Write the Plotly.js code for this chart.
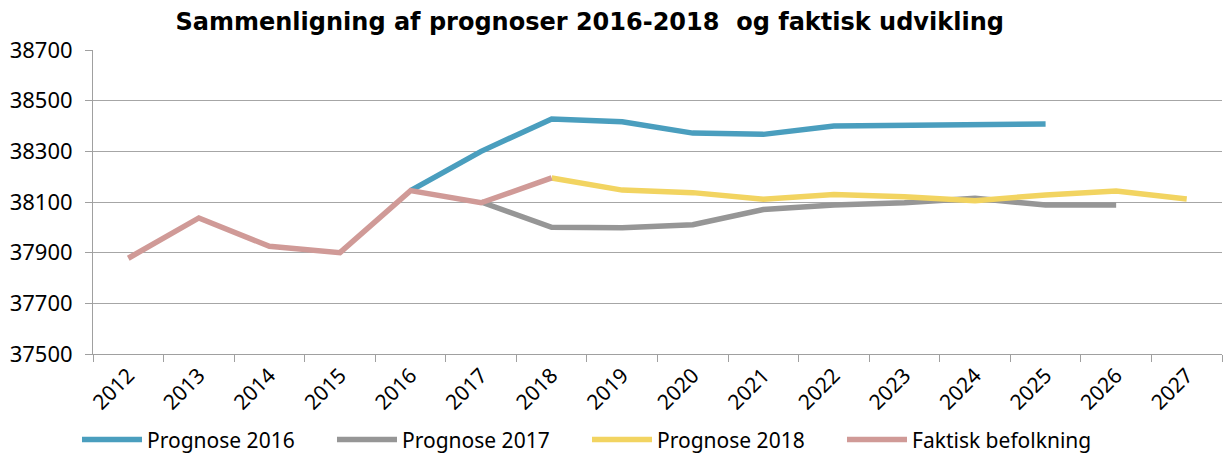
<!DOCTYPE html>
<html>
<head>
<meta charset="utf-8">
<script src="https://cdn.plot.ly/plotly-3.0.1.min.js"></script>
<style>html,body{margin:0;padding:0;background:#fff}#chart{width:1226px;height:453px}</style>
</head>
<body>
<div id="chart"></div>
<script>
const years = ["2012","2013","2014","2015","2016","2017","2018","2019","2020","2021","2022","2023","2024","2025","2026","2027"];
const prognose2016 = [null,null,null,null,38145,38300,38428,38417,38372,38367,38400,38401,38405,38408,null,null];
const prognose2017 = [null,null,null,null,null,38100,38000,37998,38010,38070,38088,38097,38115,38088,38088,null];
const prognose2018 = [null,null,null,null,null,null,38195,38147,38137,38111,38130,38121,38105,38128,38143,38112];
const faktisk = [37878,38037,37925,37900,38145,38097,38195,null,null,null,null,null,null,null,null,null];
const seriesNames = ["Prognose 2016","Prognose 2017","Prognose 2018","Faktisk befolkning"];
const yTicks = [37500,37700,37900,38100,38300,38500,38700];

const colors = ["#4A9EBE","#969696","#F2D461","#D09A97"];
const data = [prognose2016, prognose2017, prognose2018, faktisk].map((vals, i) => ({
  type: "scatter", mode: "lines", x: years, y: vals, name: seriesNames[i],
  line: {color: colors[i], width: 5.5}, connectgaps: false, hoverinfo: "x+y"
}));

const font = "Noto Sans, DejaVu Sans, sans-serif";
const layout = {
  width: 1226, height: 453,
  margin: {l: 93, r: 4, t: 50, b: 99},
  paper_bgcolor: "#fff", plot_bgcolor: "#fff",
  font: {family: font, color: "#000", size: 20},
  title: {text: "<b>Sammenligning af prognoser 2016-2018  og faktisk udvikling</b>", font: {family: "DejaVu Sans, sans-serif", size: 24, color: "#000"},
          x: 0.481, xanchor: "center", xref: "container", y: 0.97, yanchor: "top", yref: "container", automargin: false},
  xaxis: {type: "category", range: [-0.5, 15.5], tickangle: -45, showline: true, linecolor: "#a0a0a0", linewidth: 1,
          ticks: "outside", tickson: "boundaries", ticklen: 7, tickcolor: "#a0a0a0", showgrid: false, automargin: false,
          tickfont: {family: font, size: 21}},
  yaxis: {range: [37500, 38700], tickvals: yTicks, ticktext: yTicks.map(String), showline: true, linecolor: "#a0a0a0", linewidth: 1,
          ticks: "outside", ticklen: 7, tickcolor: "#a0a0a0", gridcolor: "#a6a6a6", gridwidth: 1, zeroline: false, automargin: false,
          tickfont: {family: font, size: 22}, ticklabelstandoff: 8},
  legend: {orientation: "h", x: 0.0628, xanchor: "left", xref: "container", y: 0.029, yanchor: "middle", yref: "container",
           entrywidth: 180, entrywidthmode: "pixels",
           font: {family: font, size: 21}, itemwidth: 60, tracegroupgap: 0},
  showlegend: true
};
Plotly.newPlot("chart", data, layout, {displayModeBar: false, staticPlot: true});
</script>
</body>
</html>
